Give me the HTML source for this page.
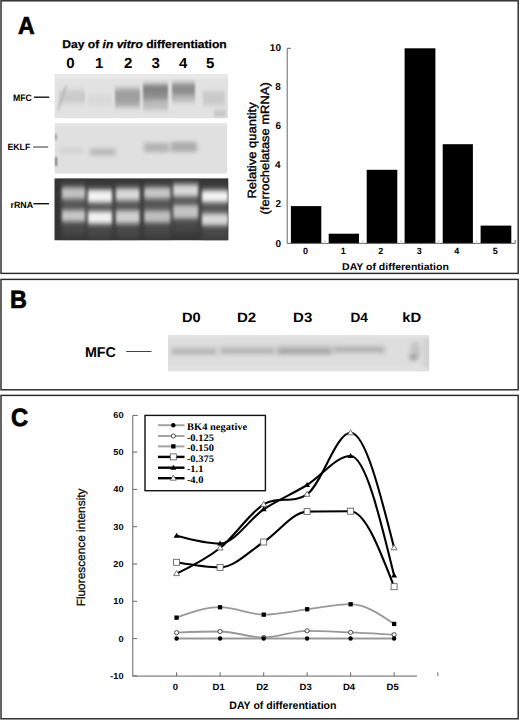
<!DOCTYPE html>
<html><head><meta charset="utf-8"><title>Figure</title>
<style>html,body{margin:0;padding:0;background:#fff;}body{width:520px;height:720px;overflow:hidden;}svg{display:block;}</style>
</head><body>
<svg width="520" height="720" viewBox="0 0 520 720" text-rendering="geometricPrecision">
<rect width="520" height="720" fill="#fff"/>
<defs>
<filter id="b2" x="-50%" y="-50%" width="200%" height="200%"><feGaussianBlur stdDeviation="2"/></filter>
<filter id="b25" x="-50%" y="-50%" width="200%" height="200%"><feGaussianBlur stdDeviation="2.5"/></filter>
<filter id="b3" x="-50%" y="-50%" width="200%" height="200%"><feGaussianBlur stdDeviation="3"/></filter>
<filter id="b15" x="-50%" y="-50%" width="200%" height="200%"><feGaussianBlur stdDeviation="1.5"/></filter>
<filter id="b1" x="-50%" y="-50%" width="200%" height="200%"><feGaussianBlur stdDeviation="1"/></filter>
<filter id="bxy" x="-50%" y="-50%" width="200%" height="200%"><feGaussianBlur stdDeviation="1.3 2.4"/></filter>
<filter id="bg3" x="-50%" y="-50%" width="200%" height="200%"><feGaussianBlur stdDeviation="2 4"/></filter>
<filter id="bB" x="-50%" y="-50%" width="200%" height="200%"><feGaussianBlur stdDeviation="2 1.4"/></filter>
<filter id="bE" x="-50%" y="-50%" width="200%" height="200%"><feGaussianBlur stdDeviation="2 2.2"/></filter>
<filter id="bR" x="-50%" y="-50%" width="200%" height="200%"><feGaussianBlur stdDeviation="1.4 2.6"/></filter>
<filter id="b07" x="-50%" y="-50%" width="200%" height="200%"><feGaussianBlur stdDeviation="0.6"/></filter>
<clipPath id="cMFC"><rect x="54.5" y="73.8" width="173.8" height="44.6"/></clipPath>
<clipPath id="cEK"><rect x="54.5" y="123.2" width="172.8" height="50.5"/></clipPath>
<clipPath id="cRR"><rect x="54.3" y="178.2" width="174.2" height="62.3"/></clipPath>
<clipPath id="cB"><rect x="167.8" y="335" width="261.6" height="36.4"/></clipPath>
</defs>
<g fill="none" stroke="#2a2a2a" stroke-width="1.45">
<rect x="1" y="0.8" width="517.2" height="272.6"/>
<rect x="1" y="279.4" width="517.2" height="110.4"/>
<rect x="1" y="395.4" width="517.2" height="323.4"/>
</g>
<g stroke="#111" stroke-width="1.4"><line x1="34" y1="97.2" x2="49.2" y2="97.2"/><line x1="33" y1="147" x2="48.2" y2="147" stroke-width="1" stroke="#333"/><line x1="33.4" y1="203.7" x2="49" y2="203.7"/></g>
<g clip-path="url(#cMFC)">
<rect x="54.5" y="73.8" width="173.8" height="44.6" fill="#e2e2e2"/>
<rect x="54.5" y="73.8" width="173.8" height="5" fill="#e8e8e8"/>
<g filter="url(#bxy)">
<rect x="59" y="90" width="26" height="13" fill="#cbcbcb"/>
<rect x="88" y="94" width="24" height="12" fill="#dadada"/>
<rect x="115" y="88" width="25" height="19" fill="#a8a8a8"/>
<rect x="115" y="92" width="25" height="8" fill="#9c9c9c"/>
<rect x="143" y="84" width="25" height="16" fill="#8e8e8e"/>
<rect x="143" y="86" width="25" height="6" fill="#7e7e7e"/>
<rect x="143" y="100" width="25" height="10" fill="#bdbdbd"/>
<rect x="172" y="83" width="23" height="12" fill="#8e8e8e"/>
<rect x="172" y="95" width="23" height="7" fill="#b8b8b8"/>
<rect x="203" y="91" width="22" height="14" fill="#c9c9c9"/>
<rect x="214" y="111" width="12" height="5" fill="#bbbbbb"/>
</g>
<path d="M58,110 L66,86" stroke="#b0b0b0" stroke-width="1.5" fill="none" filter="url(#b1)"/>
</g>
<g clip-path="url(#cEK)">
<rect x="54.5" y="123.2" width="172.8" height="50.5" fill="#e0e0e0"/>
<rect x="54.5" y="123.2" width="172.8" height="3" fill="#e6e6e6"/>
<g filter="url(#bE)">
<rect x="59" y="148" width="25" height="5" fill="#d2d2d2"/>
<rect x="90" y="148.5" width="26" height="7" fill="#bababa"/>
<rect x="144" y="143" width="25" height="9" fill="#b2b2b2"/>
<rect x="171" y="142" width="26" height="10" fill="#acacac"/>
</g>
<g filter="url(#b1)"><rect x="55" y="134" width="1.6" height="6" fill="#888"/><rect x="55" y="157" width="2" height="9" fill="#6a6a6a"/></g>
</g>
<g clip-path="url(#cRR)">
<rect x="54.3" y="178.2" width="174.2" height="62.3" fill="#343434"/>
<g filter="url(#bg3)">
<rect x="61.5" y="183.0" width="24.1" height="53.0" fill="#484848"/>
<rect x="61.5" y="188.0" width="24.1" height="33.0" fill="#565656"/>
<rect x="87.5" y="185.4" width="25.0" height="52.9" fill="#484848"/>
<rect x="87.5" y="190.4" width="25.0" height="32.9" fill="#565656"/>
<rect x="115.4" y="184.0" width="24.6" height="54.0" fill="#484848"/>
<rect x="115.4" y="189.0" width="24.6" height="34.0" fill="#565656"/>
<rect x="143.8" y="183.0" width="27.0" height="54.0" fill="#484848"/>
<rect x="143.8" y="188.0" width="27.0" height="34.0" fill="#565656"/>
<rect x="172.7" y="180.0" width="25.9" height="53.0" fill="#484848"/>
<rect x="172.7" y="185.0" width="25.9" height="33.0" fill="#565656"/>
<rect x="201.5" y="186.0" width="27.0" height="53.8" fill="#484848"/>
<rect x="201.5" y="191.0" width="27.0" height="33.8" fill="#565656"/>
</g>
<g filter="url(#bR)">
<rect x="62.0" y="187.5" width="23.1" height="11.5" fill="#c2c2c2"/>
<rect x="62.0" y="210.1" width="23.1" height="11.4" fill="#c8c8c8"/>
<rect x="88.0" y="189.9" width="24.0" height="12.6" fill="#f4f4f4"/>
<rect x="88.0" y="211.3" width="24.0" height="12.5" fill="#f2f2f2"/>
<rect x="115.9" y="188.5" width="23.6" height="12.0" fill="#dadada"/>
<rect x="115.9" y="210.5" width="23.6" height="13.0" fill="#d0d0d0"/>
<rect x="144.3" y="187.5" width="26.0" height="11.0" fill="#c8c8c8"/>
<rect x="144.3" y="210.5" width="26.0" height="12.0" fill="#c0c0c0"/>
<rect x="173.2" y="184.5" width="24.9" height="12.0" fill="#d8d8d8"/>
<rect x="173.2" y="205.1" width="24.9" height="13.4" fill="#c4c4c4"/>
<rect x="202.0" y="190.5" width="26.0" height="11.7" fill="#f4f4f4"/>
<rect x="202.0" y="213.5" width="26.0" height="11.8" fill="#dadada"/>
</g>
</g>
<g fill="#000">
<rect x="290.9" y="206.1" width="30.4" height="37.5"/>
<rect x="328.7" y="233.7" width="30.3" height="9.9"/>
<rect x="366.7" y="169.8" width="30.6" height="73.8"/>
<rect x="404.6" y="48.3" width="30.8" height="195.3"/>
<rect x="442.7" y="144.2" width="30.2" height="99.4"/>
<rect x="480.6" y="225.6" width="30.7" height="18.0"/>
</g>
<g stroke="#666" stroke-width="1" fill="none">
<path d="M291,48.3 H287.2 V243.4 H515.2 V240"/>
<line x1="324.8" y1="243.6" x2="324.8" y2="240" stroke="#ccc"/>
<line x1="362.7" y1="243.6" x2="362.7" y2="240" stroke="#ccc"/>
<line x1="400.8" y1="243.6" x2="400.8" y2="240" stroke="#ccc"/>
<line x1="438.8" y1="243.6" x2="438.8" y2="240" stroke="#ccc"/>
<line x1="476.7" y1="243.6" x2="476.7" y2="240" stroke="#ccc"/>
</g>
<line x1="126.2" y1="351.5" x2="151.5" y2="351.5" stroke="#444" stroke-width="1"/>
<g clip-path="url(#cB)">
<rect x="167.8" y="335" width="261.6" height="36.4" fill="#dddddd"/>
<rect x="167.8" y="335" width="261.6" height="3" fill="#e2e2e2"/>
<rect x="167.8" y="365" width="261.6" height="6.4" fill="#e0e0e0"/>
<g filter="url(#bB)">
<rect x="171" y="346" width="46" height="10" fill="#cdcdcd"/>
<rect x="220" y="345.5" width="55" height="10" fill="#cbcbcb"/>
<rect x="277" y="345" width="55" height="11" fill="#c6c6c6"/>
<rect x="333" y="344.5" width="52" height="10" fill="#cbcbcb"/>
<rect x="172" y="349.5" width="44" height="4" fill="#b6b6b6"/>
<rect x="221" y="349" width="53" height="4" fill="#b4b4b4"/>
<rect x="278" y="348.5" width="53" height="5" fill="#aaaaaa"/>
<rect x="334" y="347.5" width="50" height="4" fill="#b2b2b2"/>
<ellipse cx="415" cy="351" rx="5" ry="10" fill="#c4c4c4"/><ellipse cx="413.5" cy="357" rx="4.5" ry="4" fill="#acacac"/>
<rect x="424" y="338" width="5" height="30" fill="#cfcfcf"/>
</g>
</g>
<g stroke="#666" stroke-width="1" fill="none">
<path d="M137.7,415.4 H132.8 V676.1 H417"/>
<line x1="132.8" y1="675.9" x2="137.2" y2="675.9"/>
<line x1="132.8" y1="638.6" x2="137.2" y2="638.6"/>
<line x1="132.8" y1="601.3" x2="137.2" y2="601.3"/>
<line x1="132.8" y1="564.0" x2="137.2" y2="564.0"/>
<line x1="132.8" y1="526.7" x2="137.2" y2="526.7"/>
<line x1="132.8" y1="489.4" x2="137.2" y2="489.4"/>
<line x1="132.8" y1="452.1" x2="137.2" y2="452.1"/>
<line x1="176.6" y1="676.1" x2="176.6" y2="672.3"/>
<line x1="220.1" y1="676.1" x2="220.1" y2="672.3"/>
<line x1="263.7" y1="676.1" x2="263.7" y2="672.3"/>
<line x1="307.1" y1="676.1" x2="307.1" y2="672.3"/>
<line x1="350.6" y1="676.1" x2="350.6" y2="672.3"/>
<line x1="394.1" y1="676.1" x2="394.1" y2="672.3"/>
<line x1="437.8" y1="676.1" x2="437.8" y2="672.3"/>
</g>
<path d="M176.6,638.5 C191.1,638.5 205.6,638.5 220.1,638.5 C234.6,638.5 249.2,638.5 263.7,638.5 C278.2,638.5 292.6,638.5 307.1,638.5 C321.6,638.5 336.1,638.5 350.6,638.5 C365.1,638.5 379.6,638.5 394.1,638.5" fill="none" stroke="#999" stroke-width="1.8"/>
<path d="M176.6,632.6 C191.1,632.0 205.6,631.5 220.1,631.5 C234.6,631.5 249.2,637.5 263.7,637.5 C278.2,637.5 292.6,630.8 307.1,630.8 C321.6,630.8 336.1,631.8 350.6,632.4 C365.1,633.0 379.6,633.9 394.1,634.7" fill="none" stroke="#999" stroke-width="1.8"/>
<path d="M176.6,617.6 C191.1,612.4 205.6,607.2 220.1,607.2 C234.6,607.2 249.2,614.6 263.7,614.6 C278.2,614.6 292.6,611.0 307.1,609.3 C321.6,607.6 336.1,604.2 350.6,604.2 C365.1,604.2 379.6,614.0 394.1,623.9" fill="none" stroke="#999" stroke-width="1.8"/>
<path d="M176.6,562.3 C191.1,564.8 205.6,567.4 220.1,567.4 C234.6,567.4 249.2,551.3 263.7,542.0 C278.2,532.7 292.6,512.0 307.1,511.6 C321.6,511.2 336.1,511.2 350.6,511.2 C365.1,511.2 379.6,549.0 394.1,586.7" fill="none" stroke="#000" stroke-width="2.1"/>
<path d="M176.6,535.7 C191.1,539.6 205.6,543.5 220.1,543.5 C234.6,543.5 249.2,519.1 263.7,509.3 C278.2,499.6 292.6,493.9 307.1,485.0 C321.6,476.1 336.1,456.0 350.6,456.0 C365.1,456.0 379.6,515.8 394.1,575.6" fill="none" stroke="#000" stroke-width="2.1"/>
<path d="M176.6,573.6 C191.1,566.6 205.6,559.5 220.1,548.0 C234.6,536.5 249.2,513.3 263.7,504.4 C278.2,495.5 292.6,504.4 307.1,494.3 C321.6,484.2 336.1,432.8 350.6,432.8 C365.1,432.8 379.6,490.3 394.1,547.8" fill="none" stroke="#000" stroke-width="2.1"/>
<path d="M176.6,570.6 l3,5 h-6z" fill="#fff" stroke="#555" stroke-width="0.8"/>
<path d="M220.1,545.0 l3,5 h-6z" fill="#fff" stroke="#555" stroke-width="0.8"/>
<path d="M263.7,501.4 l3,5 h-6z" fill="#fff" stroke="#555" stroke-width="0.8"/>
<path d="M307.1,491.3 l3,5 h-6z" fill="#fff" stroke="#555" stroke-width="0.8"/>
<path d="M350.6,429.8 l3,5 h-6z" fill="#fff" stroke="#555" stroke-width="0.8"/>
<path d="M394.1,544.8 l3,5 h-6z" fill="#fff" stroke="#555" stroke-width="0.8"/>
<path d="M176.6,532.7 l3,5 h-6z" fill="#000"/>
<path d="M220.1,540.5 l3,5 h-6z" fill="#000"/>
<path d="M263.7,506.3 l3,5 h-6z" fill="#000"/>
<path d="M307.1,482.0 l3,5 h-6z" fill="#000"/>
<path d="M350.6,453.0 l3,5 h-6z" fill="#000"/>
<path d="M394.1,572.6 l3,5 h-6z" fill="#000"/>
<rect x="173.6" y="559.3" width="6" height="6" fill="#fff" stroke="#555" stroke-width="0.8"/>
<rect x="217.1" y="564.4" width="6" height="6" fill="#fff" stroke="#555" stroke-width="0.8"/>
<rect x="260.7" y="539.0" width="6" height="6" fill="#fff" stroke="#555" stroke-width="0.8"/>
<rect x="304.1" y="508.6" width="6" height="6" fill="#fff" stroke="#555" stroke-width="0.8"/>
<rect x="347.6" y="508.2" width="6" height="6" fill="#fff" stroke="#555" stroke-width="0.8"/>
<rect x="391.1" y="583.7" width="6" height="6" fill="#fff" stroke="#555" stroke-width="0.8"/>
<rect x="174.4" y="615.5" width="4.3" height="4.3" fill="#000"/>
<rect x="217.9" y="605.1" width="4.3" height="4.3" fill="#000"/>
<rect x="261.6" y="612.5" width="4.3" height="4.3" fill="#000"/>
<rect x="305.0" y="607.1" width="4.3" height="4.3" fill="#000"/>
<rect x="348.5" y="602.1" width="4.3" height="4.3" fill="#000"/>
<rect x="392.0" y="621.8" width="4.3" height="4.3" fill="#000"/>
<circle cx="176.6" cy="632.6" r="2.1" fill="#fff" stroke="#222" stroke-width="0.8"/>
<circle cx="220.1" cy="631.5" r="2.1" fill="#fff" stroke="#222" stroke-width="0.8"/>
<circle cx="263.7" cy="637.5" r="2.1" fill="#fff" stroke="#222" stroke-width="0.8"/>
<circle cx="307.1" cy="630.8" r="2.1" fill="#fff" stroke="#222" stroke-width="0.8"/>
<circle cx="350.6" cy="632.4" r="2.1" fill="#fff" stroke="#222" stroke-width="0.8"/>
<circle cx="394.1" cy="634.7" r="2.1" fill="#fff" stroke="#222" stroke-width="0.8"/>
<circle cx="176.6" cy="638.5" r="2.2" fill="#000"/>
<circle cx="220.1" cy="638.5" r="2.2" fill="#000"/>
<circle cx="263.7" cy="638.5" r="2.2" fill="#000"/>
<circle cx="307.1" cy="638.5" r="2.2" fill="#000"/>
<circle cx="350.6" cy="638.5" r="2.2" fill="#000"/>
<circle cx="394.1" cy="638.5" r="2.2" fill="#000"/>
<rect x="145" y="415.4" width="120.4" height="75.3" fill="#fff" stroke="#111" stroke-width="1.4"/>
<line x1="158" y1="425.2" x2="184.5" y2="425.2" stroke="#a4a4a4" stroke-width="2"/>
<circle cx="173.3" cy="425.2" r="2.2" fill="#000"/>
<line x1="158" y1="436.0" x2="184.5" y2="436.0" stroke="#a4a4a4" stroke-width="2"/>
<circle cx="173.3" cy="436.0" r="2.1" fill="#fff" stroke="#222" stroke-width="0.8"/>
<line x1="158" y1="446.4" x2="184.5" y2="446.4" stroke="#a4a4a4" stroke-width="2"/>
<rect x="171.2" y="444.2" width="4.3" height="4.3" fill="#000"/>
<line x1="158" y1="456.9" x2="184.5" y2="456.9" stroke="#000" stroke-width="2.4"/>
<rect x="170.3" y="453.9" width="6" height="6" fill="#fff" stroke="#555" stroke-width="0.8"/>
<line x1="158" y1="467.7" x2="184.5" y2="467.7" stroke="#000" stroke-width="2.4"/>
<path d="M173.3,464.7 l3,5 h-6z" fill="#000"/>
<line x1="158" y1="478.2" x2="184.5" y2="478.2" stroke="#000" stroke-width="2.4"/>
<path d="M173.3,475.2 l3,5 h-6z" fill="#fff" stroke="#555" stroke-width="0.8"/>
<text transform="translate(18.50,33.80) scale(0.9342,1) translate(-0.49,0)" font-family="Liberation Sans" font-size="24.71" font-weight="bold" stroke="#000" stroke-width="0.7">A</text>
<text transform="translate(11.50,308.00) scale(0.9355,1) translate(-1.50,0)" font-family="Liberation Sans" font-size="25.00" font-weight="bold" stroke="#000" stroke-width="0.7">B</text>
<text transform="translate(12.00,425.50) scale(0.9515,1) translate(-1.00,0)" font-family="Liberation Sans" font-size="25.00" font-weight="bold" stroke="#000" stroke-width="0.7">C</text>
<text transform="translate(63.00,47.70) scale(1.0827,1) translate(-0.67,0)" font-family="Liberation Sans" font-size="11.16" font-weight="bold" stroke="#000" stroke-width="0.25">Day of <tspan font-style="italic">in vitro</tspan> differentiation</text>
<text transform="translate(70.50,67.80) scale(1.0300,1) translate(-4.01,0)" font-family="Liberation Sans" font-size="14.57" font-weight="bold">0</text>
<text transform="translate(99.50,67.80) scale(1.0300,1) translate(-4.30,0)" font-family="Liberation Sans" font-size="14.57" font-weight="bold">1</text>
<text transform="translate(128.20,67.80) scale(1.0300,1) translate(-4.01,0)" font-family="Liberation Sans" font-size="14.57" font-weight="bold">2</text>
<text transform="translate(155.60,67.80) scale(1.0300,1) translate(-3.93,0)" font-family="Liberation Sans" font-size="14.57" font-weight="bold">3</text>
<text transform="translate(183.20,67.80) scale(1.0300,1) translate(-4.15,0)" font-family="Liberation Sans" font-size="14.57" font-weight="bold">4</text>
<text transform="translate(210.20,67.80) scale(1.0300,1) translate(-4.08,0)" font-family="Liberation Sans" font-size="14.57" font-weight="bold">5</text>
<text transform="translate(13.60,101.00) scale(0.9212,1) translate(-0.57,0)" font-family="Liberation Sans" font-size="9.43" font-weight="bold">MFC</text>
<text transform="translate(8.00,150.30) scale(0.9700,1) translate(-0.54,0)" font-family="Liberation Sans" font-size="9.00" font-weight="bold">EKLF</text>
<text transform="translate(11.00,208.00) scale(0.9838,1) translate(-0.54,0)" font-family="Liberation Sans" font-size="9.00" font-weight="bold">rRNA</text>
<text transform="translate(280.60,246.50) scale(1.0000,1) translate(-5.20,0)" font-family="Liberation Sans" font-size="10.00" font-weight="bold">0</text>
<text transform="translate(280.60,207.44) scale(1.0000,1) translate(-5.20,0)" font-family="Liberation Sans" font-size="10.00" font-weight="bold">2</text>
<text transform="translate(280.60,168.38) scale(1.0000,1) translate(-5.60,0)" font-family="Liberation Sans" font-size="10.00" font-weight="bold">4</text>
<text transform="translate(280.60,129.32) scale(1.0000,1) translate(-5.20,0)" font-family="Liberation Sans" font-size="10.00" font-weight="bold">6</text>
<text transform="translate(280.60,90.26) scale(1.0000,1) translate(-5.30,0)" font-family="Liberation Sans" font-size="10.00" font-weight="bold">8</text>
<text transform="translate(280.60,51.20) scale(1.0000,1) translate(-10.76,0)" font-family="Liberation Sans" font-size="10.00" font-weight="bold">10</text>
<text transform="translate(305.40,254.40) scale(1.0000,1) translate(-2.48,0)" font-family="Liberation Sans" font-size="9.00" font-weight="bold">0</text>
<text transform="translate(343.40,254.40) scale(1.0000,1) translate(-2.66,0)" font-family="Liberation Sans" font-size="9.00" font-weight="bold">1</text>
<text transform="translate(380.80,254.40) scale(1.0000,1) translate(-2.48,0)" font-family="Liberation Sans" font-size="9.00" font-weight="bold">2</text>
<text transform="translate(419.20,254.40) scale(1.0000,1) translate(-2.43,0)" font-family="Liberation Sans" font-size="9.00" font-weight="bold">3</text>
<text transform="translate(456.70,254.40) scale(1.0000,1) translate(-2.57,0)" font-family="Liberation Sans" font-size="9.00" font-weight="bold">4</text>
<text transform="translate(495.20,254.40) scale(1.0000,1) translate(-2.52,0)" font-family="Liberation Sans" font-size="9.00" font-weight="bold">5</text>
<text transform="translate(342.70,269.70) scale(1.0664,1) translate(-0.59,0)" font-family="Liberation Sans" font-size="9.86" font-weight="bold">DAY of differentiation</text>
<text transform="translate(256.00,197.50) rotate(-90) scale(1.0848,1) translate(-0.96,0)" font-family="Liberation Sans" font-size="12.00" stroke="#000" stroke-width="0.35">Relative quantity</text>
<text transform="translate(268.60,213.70) rotate(-90) scale(1.0771,1) translate(-0.72,0)" font-family="Liberation Sans" font-size="12.00" stroke="#000" stroke-width="0.35">(ferrochelatase mRNA)</text>
<text transform="translate(85.80,357.30) scale(1.0010,1) translate(-0.86,0)" font-family="Liberation Sans" font-size="14.29" font-weight="bold">MFC</text>
<text transform="translate(191.55,321.60) scale(1.0783,1) translate(-8.84,0)" font-family="Liberation Sans" font-size="13.57" font-weight="bold">D0</text>
<text transform="translate(246.80,321.60) scale(1.1095,1) translate(-8.84,0)" font-family="Liberation Sans" font-size="13.57" font-weight="bold">D2</text>
<text transform="translate(302.85,321.60) scale(1.1032,1) translate(-8.84,0)" font-family="Liberation Sans" font-size="13.57" font-weight="bold">D3</text>
<text transform="translate(359.55,321.60) scale(1.0068,1) translate(-9.11,0)" font-family="Liberation Sans" font-size="13.57" font-weight="bold">D4</text>
<text transform="translate(412.00,321.60) scale(1.0933,1) translate(-8.86,0)" font-family="Liberation Sans" font-size="13.57" font-weight="bold">kD</text>
<text transform="translate(123.20,678.90) scale(1.0600,1) translate(-12.28,0)" font-family="Liberation Sans" font-size="8.71" font-weight="bold">-10</text>
<text transform="translate(123.20,641.60) scale(1.0600,1) translate(-4.53,0)" font-family="Liberation Sans" font-size="8.71" font-weight="bold">0</text>
<text transform="translate(123.20,604.30) scale(1.0600,1) translate(-9.38,0)" font-family="Liberation Sans" font-size="8.71" font-weight="bold">10</text>
<text transform="translate(123.20,567.00) scale(1.0600,1) translate(-9.38,0)" font-family="Liberation Sans" font-size="8.71" font-weight="bold">20</text>
<text transform="translate(123.20,529.70) scale(1.0600,1) translate(-9.38,0)" font-family="Liberation Sans" font-size="8.71" font-weight="bold">30</text>
<text transform="translate(123.20,492.40) scale(1.0600,1) translate(-9.38,0)" font-family="Liberation Sans" font-size="8.71" font-weight="bold">40</text>
<text transform="translate(123.20,455.10) scale(1.0600,1) translate(-9.38,0)" font-family="Liberation Sans" font-size="8.71" font-weight="bold">50</text>
<text transform="translate(123.20,417.80) scale(1.0600,1) translate(-9.38,0)" font-family="Liberation Sans" font-size="8.71" font-weight="bold">60</text>
<text transform="translate(175.30,689.80) scale(1.0400,1) translate(-2.51,0)" font-family="Liberation Sans" font-size="9.14" font-weight="bold">0</text>
<text transform="translate(218.80,689.80) scale(1.0400,1) translate(-6.00,0)" font-family="Liberation Sans" font-size="9.14" font-weight="bold">D1</text>
<text transform="translate(262.40,689.80) scale(1.0400,1) translate(-5.95,0)" font-family="Liberation Sans" font-size="9.14" font-weight="bold">D2</text>
<text transform="translate(305.80,689.80) scale(1.0400,1) translate(-5.95,0)" font-family="Liberation Sans" font-size="9.14" font-weight="bold">D3</text>
<text transform="translate(349.30,689.80) scale(1.0400,1) translate(-6.14,0)" font-family="Liberation Sans" font-size="9.14" font-weight="bold">D4</text>
<text transform="translate(392.80,689.80) scale(1.0400,1) translate(-6.00,0)" font-family="Liberation Sans" font-size="9.14" font-weight="bold">D5</text>
<text transform="translate(230.00,708.90) scale(0.9700,1) translate(-0.65,0)" font-family="Liberation Sans" font-size="10.86" font-weight="bold">DAY of differentiation</text>
<text transform="translate(85.20,605.40) rotate(-90) scale(1.0038,1) translate(-0.94,0)" font-family="Liberation Sans" font-size="11.80" stroke="#000" stroke-width="0.25">Fluorescence intensity</text>
<text transform="translate(187.20,429.80) scale(1.0450,1) translate(-0.10,0)" font-family="Liberation Serif" font-size="10.00" font-weight="bold">BK4 negative</text>
<text transform="translate(187.20,440.60) scale(1.0450,1) translate(-0.30,0)" font-family="Liberation Serif" font-size="10.00" font-weight="bold">-0.125</text>
<text transform="translate(187.20,451.00) scale(1.0450,1) translate(-0.30,0)" font-family="Liberation Serif" font-size="10.00" font-weight="bold">-0.150</text>
<text transform="translate(187.20,461.50) scale(1.0450,1) translate(-0.30,0)" font-family="Liberation Serif" font-size="10.00" font-weight="bold">-0.375</text>
<text transform="translate(187.20,472.30) scale(1.0450,1) translate(-0.30,0)" font-family="Liberation Serif" font-size="10.00" font-weight="bold">-1.1</text>
<text transform="translate(187.20,482.80) scale(1.0450,1) translate(-0.30,0)" font-family="Liberation Serif" font-size="10.00" font-weight="bold">-4.0</text>
</svg>
</body></html>
